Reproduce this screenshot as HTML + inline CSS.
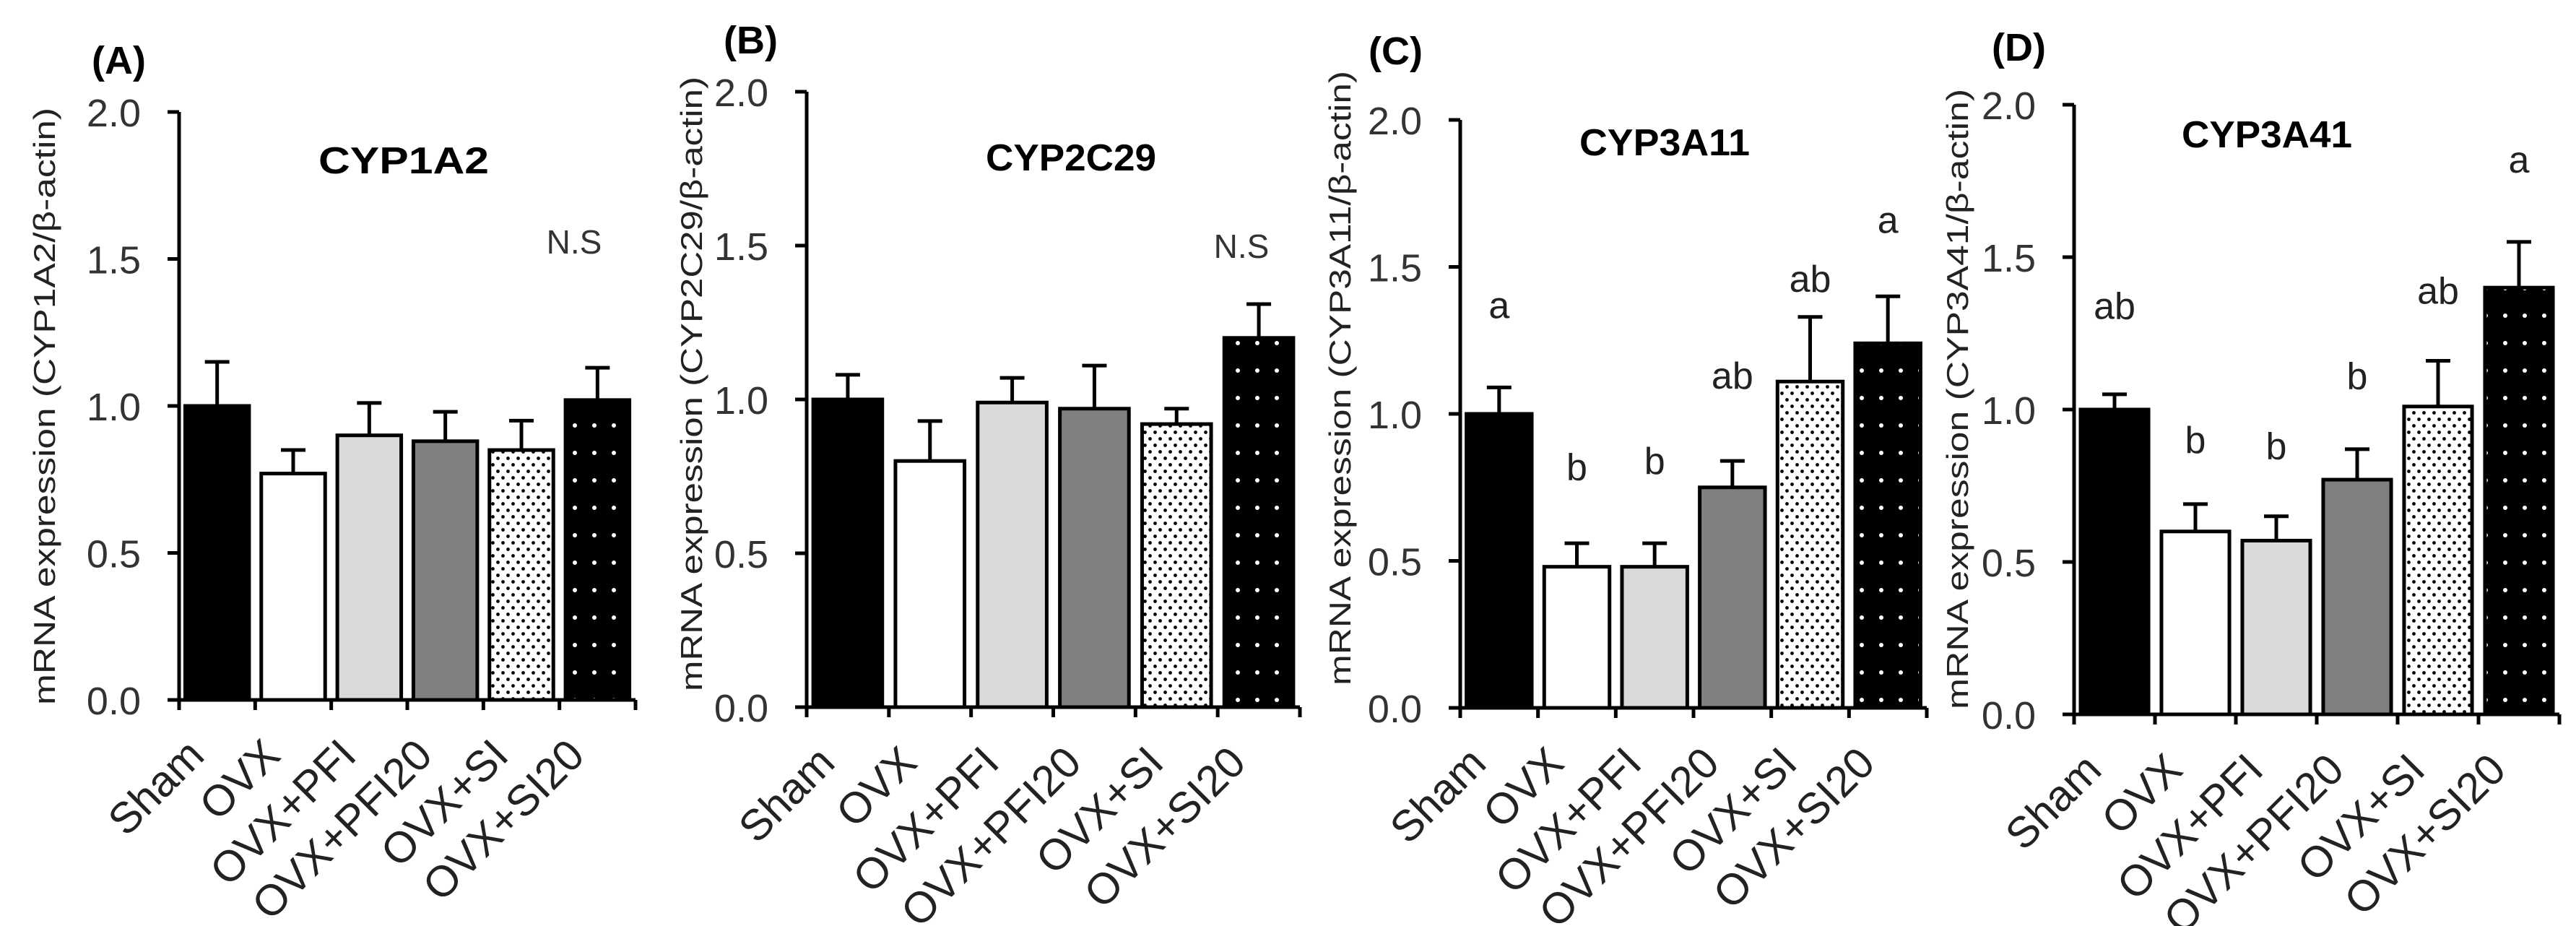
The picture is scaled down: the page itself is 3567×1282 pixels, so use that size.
<!DOCTYPE html>
<html><head><meta charset="utf-8"><style>
html,body{margin:0;padding:0;background:#fff;}
svg{display:block;font-family:"Liberation Sans",Arial,sans-serif;}
</style></head><body>
<svg id="chart" width="3567" height="1282" viewBox="0 0 3567 1282">
<defs>
<pattern id="dotsDense" patternUnits="userSpaceOnUse" width="14" height="18">
<rect width="14" height="18" fill="#fff"/><circle cx="3.5" cy="4.5" r="2.4" fill="#000"/><circle cx="10.5" cy="13.5" r="2.4" fill="#000"/>
</pattern>
<pattern id="dotsSparse" patternUnits="userSpaceOnUse" width="27" height="38">
<rect width="27" height="38" fill="#000"/><circle cx="13" cy="19" r="3" fill="#fff"/>
</pattern>
</defs>
</svg>
<script>
const categories = ["Sham","OVX","OVX+PFI","OVX+PFI20","OVX+SI","OVX+SI20"];
const valuesA = [1.00,0.77,0.90,0.88,0.85,1.02];
const errorsA = [1.15,0.85,1.01,0.98,0.95,1.13];
const valuesB = [1.00,0.80,0.99,0.97,0.92,1.20];
const errorsB = [1.08,0.93,1.07,1.11,0.97,1.31];
const valuesC = [1.00,0.48,0.48,0.75,1.11,1.24];
const errorsC = [1.09,0.56,0.56,0.84,1.33,1.40];
const valuesD = [1.00,0.60,0.57,0.77,1.01,1.40];
const errorsD = [1.05,0.69,0.65,0.87,1.16,1.55];
const lettersC = ["a","b","b","ab","ab","a"];
const letterPosC = [1.37,0.82,0.84,1.13,1.46,1.66];
const lettersD = ["ab","b","b","b","ab","a"];
const letterPosD = [1.34,0.90,0.88,1.11,1.39,1.82];
const yTicks = [0,0.5,1.0,1.5,2.0];
const yTickLabels = ["0.0","0.5","1.0","1.5","2.0"];

const fills = ["#000","#fff","#d9d9d9","#808080","url(#dotsDense)","url(#dotsSparse)"];
const svg = document.getElementById('chart');
const NS = "http://www.w3.org/2000/svg";
function mk(tag, attrs, parent){const e=document.createElementNS(NS,tag);for(const k in attrs)e.setAttribute(k,attrs[k]);(parent||svg).appendChild(e);return e;}

const panels = [
 {id:"a",label:"(A)",labelX:127,labelY:102,title:"CYP1A2",titleX:559,titleY:240,x0:248,xEnd:880,yTop:155,yZero:969,
  ytitle:"mRNA expression (CYP1A2/β-actin)",ytX:76,ytTop:149,ytBot:976,vals:valuesA,errs:errorsA,ns:{x:795,v:1.56}},
 {id:"b",label:"(B)",labelX:1002,labelY:74,title:"CYP2C29",titleX:1483,titleY:236,x0:1117,xEnd:1800,yTop:127,yZero:979,
  ytitle:"mRNA expression (CYP2C29/β-actin)",ytX:972,ytTop:106,ytBot:957,vals:valuesB,errs:errorsB,ns:{x:1719,v:1.50}},
 {id:"c",label:"(C)",labelX:1895,labelY:89,title:"CYP3A11",titleX:2305,titleY:215,x0:2022,xEnd:2668,yTop:166,yZero:980,
  ytitle:"mRNA expression (CYP3A11/β-actin)",ytX:1870,ytTop:98,ytBot:949,vals:valuesC,errs:errorsC,letters:lettersC,lpos:letterPosC},
 {id:"d",label:"(D)",labelX:2758,labelY:84,title:"CYP3A41",titleX:3139,titleY:204,x0:2872,xEnd:3544,yTop:145,yZero:989,
  ytitle:"mRNA expression (CYP3A41/β-actin)",ytX:2725,ytTop:123,ytBot:982,vals:valuesD,errs:errorsD,letters:lettersD,lpos:letterPosD}
];

panels.forEach(p=>{
  const g = mk('g',{});
  
  
  const y = v => p.yZero - (p.yZero - p.yTop) * v / 2.0;
  const cw = (p.xEnd - p.x0) / categories.length;
  const bw = cw * 0.84;
  const t1 = mk('text',{x:p.labelX,y:p.labelY,'font-size':54,'font-weight':'bold'},g);
  t1.textContent = p.label;
  
  
  const t2 = mk('text',{x:p.titleX,y:p.titleY,'font-size':52,'font-weight':'bold','text-anchor':'middle',textLength:236,lengthAdjust:'spacingAndGlyphs'},g);
  t2.textContent = p.title;
  
  
  const yt = mk('text',{x:0,y:0,'font-size':42,'text-anchor':'middle',textLength:(p.ytBot-p.ytTop),lengthAdjust:'spacingAndGlyphs',transform:`translate(${p.ytX},${(p.ytTop+p.ytBot)/2}) rotate(-90)`,fill:'#222'},g);
  yt.textContent = p.ytitle;
  
  
  p.vals.forEach((v,i)=>{
    const cx = p.x0 + cw*(i+0.5);
    const r = mk('rect',{x:cx-bw/2,y:y(v),width:bw,height:p.yZero-y(v),fill:fills[i],stroke:'#000','stroke-width':5},g);
    
    
    const e = mk('path',{d:`M${cx},${y(v)} V${y(p.errs[i])} M${cx-17},${y(p.errs[i])} H${cx+17}`,stroke:'#000','stroke-width':5,fill:'none'},g);
    
    
    if(p.letters){
      const lt = mk('text',{x:cx,y:y(p.lpos[i])+18,'font-size':52,'text-anchor':'middle',fill:'#222'},g);
      lt.textContent = p.letters[i];
      
      
    }
    const xl = mk('text',{x:0,y:0,'font-size':60,'text-anchor':'end',transform:`translate(${cx-15},${p.yZero+80}) rotate(-45)`,fill:'#222'},g);
    xl.textContent = categories[i];
    
    
  });
  if(p.ns){
    const n = mk('text',{x:p.ns.x,y:y(p.ns.v)+17,'font-size':46,'text-anchor':'middle',fill:'#333'},g);
    n.textContent = 'N.S';
    
    
  }
  const ya = mk('line',{x1:p.x0,y1:p.yTop,x2:p.x0,y2:p.yZero,stroke:'#000','stroke-width':5},g);
  
  
  const xa = mk('line',{x1:p.x0-16,y1:p.yZero,x2:p.xEnd,y2:p.yZero,stroke:'#000','stroke-width':5},g);
  
  
  yTicks.forEach((t,k)=>{
    mk('line',{x1:p.x0-16,y1:y(t),x2:p.x0,y2:y(t),stroke:'#000','stroke-width':5},g);
    const tl = mk('text',{x:p.x0-53,y:y(t)+20,'font-size':54,'text-anchor':'end',fill:'#333'},g);
    tl.textContent = yTickLabels[k];
    
    
  });
  for(let i=0;i<=categories.length;i++){
    const xx = p.x0 + cw*i;
    mk('line',{x1:xx,y1:p.yZero,x2:xx,y2:p.yZero+14,stroke:'#000','stroke-width':5},g);
  }
});
</script>
</body></html>
